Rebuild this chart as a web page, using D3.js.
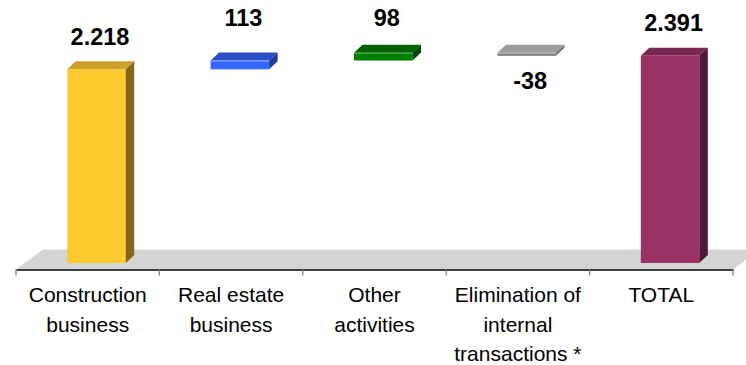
<!DOCTYPE html>
<html>
<head>
<meta charset="utf-8">
<script src="https://cdn.jsdelivr.net/npm/d3@7"></script>
<style>
  html, body { margin: 0; padding: 0; background: #fff; }
  svg { display: block; }
</style>
</head>
<body>
<svg id="chart" width="746" height="365"></svg>
<script>
// ---- data ----
const categories = [
  ["Construction", "business"],
  ["Real estate", "business"],
  ["Other", "activities"],
  ["Elimination of", "internal", "transactions *"],
  ["TOTAL"]
];
const values = [2218, 113, 98, -38, 2391];
const kinds = ["total", "delta", "delta", "delta", "total"];
const valueLabels = ["2.218", "113", "98", "-38", "2.391"];
const valueAxis = [-265, 2500];

const palette = [
  { front: "#FFCA30", top: "#CDA026", side: "#85661A", edge: null },
  { front: "#3366FF", top: "#2A4FC4", side: "#1E3A96", edge: "#8FA8FF" },
  { front: "#008000", top: "#006300", side: "#004700", edge: "#4DA64D" },
  { front: "#7F7F7F", top: "#9C9C9C", side: "#6E6E6E", edge: "#B5B5B5" },
  { front: "#993366", top: "#7A2851", side: "#4E1A35", edge: null }
];

// ---- layout ----
const svg = d3.select("#chart");
const axisLeft = 16, axisRight = 733, axisY = 269.5;
const floorDx = 27, floorDy = 20;     // floor depth
const depthFrac = 0.325;              // where bar fronts sit inside the floor
const barDx = 8.5, barDy = 8;         // bar depth

const keys = categories.map((c, i) => i);
const x = d3.scaleBand().domain(keys).range([axisLeft, axisRight]).padding(0);
const barW = x.bandwidth() * 0.408;
const offX = floorDx * depthFrac, offY = floorDy * depthFrac;
const baseY = axisY - offY;
const y = d3.scaleLinear().domain(valueAxis).range([baseY, baseY - (valueAxis[1] - valueAxis[0]) * 0.078]);

// running waterfall
let run = 0;
const bars = values.map((v, i) => {
  let start, end;
  if (kinds[i] === "total") { start = valueAxis[0]; end = v; run = v; }
  else { start = run; end = run + v; run = end; }
  return { i, v, start, end };
});

// floor
svg.append("polygon")
  .attr("points", [
    [axisLeft, axisY], [axisLeft + floorDx, axisY - floorDy],
    [axisRight + floorDx, axisY - floorDy], [axisRight, axisY]
  ].map(p => p.join(",")).join(" "))
  .attr("fill", "#D4D4D4");

// axis
const xAxis = d3.axisBottom(x).tickSize(0).tickFormat("");
const gAxis = svg.append("g").attr("transform", `translate(0,${axisY})`).call(xAxis);
gAxis.select(".domain").attr("stroke", "#000").attr("stroke-width", 1.3);
const bounds = keys.map(k => x(k)).concat([axisRight]);
gAxis.selectAll(".sep").data(bounds).enter().append("line")
  .attr("x1", d => d).attr("x2", d => d).attr("y1", 0).attr("y2", 6)
  .attr("stroke", "#808080").attr("stroke-width", 1.3);

// bars
const gBars = svg.append("g");
bars.forEach(b => {
  const c = palette[b.i];
  const x0 = x(b.i) + (x.bandwidth() - barW) / 2 + offX;
  const yT = y(Math.max(b.start, b.end));
  const yB = y(Math.min(b.start, b.end));
  const g = gBars.append("g");
  g.append("rect").attr("x", x0).attr("y", yT).attr("width", barW).attr("height", yB - yT)
    .attr("fill", c.front);
  g.append("polygon").attr("points", [
    [x0, yT], [x0 + barDx, yT - barDy], [x0 + barW + barDx, yT - barDy], [x0 + barW, yT]
  ].map(p => p.join(",")).join(" ")).attr("fill", c.top);
  g.append("polygon").attr("points", [
    [x0 + barW, yT], [x0 + barW + barDx, yT - barDy], [x0 + barW + barDx, yB - barDy], [x0 + barW, yB]
  ].map(p => p.join(",")).join(" ")).attr("fill", c.side);
  if (c.edge) {
    g.append("line").attr("x1", x0).attr("x2", x0 + barW).attr("y1", yT + 0.5).attr("y2", yT + 0.5)
      .attr("stroke", c.edge).attr("stroke-width", 1);
  }
  b.cx = x0 + barW / 2 + 3.5;
  b.yT = yT; b.yB = yB;
});

// value labels
const peak = d3.max(bars.filter(b => kinds[b.i] === "delta"), b => Math.max(b.start, b.end));
svg.append("g").selectAll("text").data(bars).enter().append("text")
  .attr("x", d => d.cx)
  .attr("y", d => {
    if (kinds[d.i] === "total") return d.yT - 24.5;
    if (d.v >= 0) return y(peak) - 26.5;
    return d.yB + 33;
  })
  .attr("text-anchor", "middle")
  .attr("font-family", "Liberation Sans, Arial, sans-serif")
  .attr("font-weight", "bold")
  .attr("font-size", 23.5)
  .attr("fill", "#000")
  .text((d, i) => valueLabels[i]);

// category labels
const gCat = svg.append("g");
categories.forEach((lines, i) => {
  const t = gCat.append("text")
    .attr("x", x(i) + x.bandwidth() / 2)
    .attr("y", 302)
    .attr("text-anchor", "middle")
    .attr("font-family", "Liberation Sans, Arial, sans-serif")
    .attr("font-size", 21)
    .attr("fill", "#000");
  lines.forEach((ln, j) => {
    t.append("tspan").attr("x", x(i) + x.bandwidth() / 2).attr("dy", j === 0 ? 0 : 29.7).text(ln);
  });
});
</script>
</body>
</html>
